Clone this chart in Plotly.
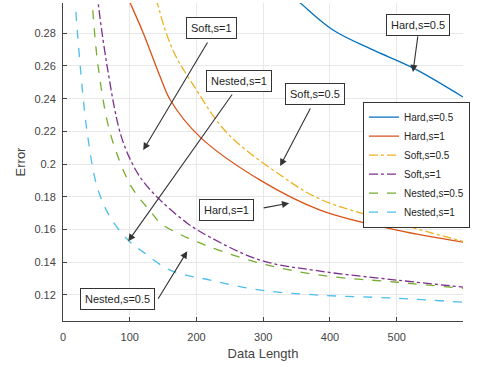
import plotly.graph_objects as go

# ---- data ----
hard05_x = [345, 355.2, 404.6, 464.5, 524.4, 599.3]
hard05_y = [0.302, 0.2986, 0.2820, 0.2698, 0.2588, 0.2410]

hard1_x = [98, 100.7, 120.2, 145.7, 160.7, 205.5, 295.4, 385.2, 500.4, 599.3]
hard1_y = [0.301, 0.2985, 0.2802, 0.2533, 0.2392, 0.2165, 0.1902, 0.1719, 0.1596, 0.1523]

soft05_x = [139, 141.2, 153.1, 168.1, 195.1, 246.0, 329.9, 385.2, 500.4, 599.3]
soft05_y = [0.301, 0.2985, 0.2820, 0.2667, 0.2484, 0.2190, 0.1921, 0.1786, 0.1639, 0.1528]

soft1_x = [51.8, 52.8, 66.3, 85.8, 103.0, 120.0, 145.7, 186.2, 220.5, 295.4, 385.2, 500.4, 599.3]
soft1_y = [0.305, 0.2985, 0.2594, 0.2189, 0.2010, 0.1895, 0.1780, 0.1639, 0.1553, 0.1413, 0.1346, 0.1291, 0.1248]

nested05_x = [43.2, 43.9, 52.8, 70.8, 99.3, 115.7, 130.7, 145.7, 171.1, 195.1, 220.5, 295.4, 385.2, 500.4, 599.3]
nested05_y = [0.305, 0.2985, 0.2593, 0.2189, 0.1884, 0.1786, 0.1713, 0.1640, 0.1579, 0.1535, 0.1493, 0.1394, 0.1321, 0.1278, 0.1241]

nested1_x = [17.6, 18.4, 25.9, 36.4, 51.3, 70.8, 96.3, 120.2, 160.6, 220.5, 295.4, 385.2, 500.4, 599.3]
nested1_y = [0.304, 0.2985, 0.2594, 0.2189, 0.1859, 0.1675, 0.1541, 0.1462, 0.1352, 0.1291, 0.1230, 0.1199, 0.1180, 0.1156]

names = ["Hard,s=0.5", "Hard,s=1", "Soft,s=0.5", "Soft,s=1", "Nested,s=0.5", "Nested,s=1"]
series_x = [hard05_x, hard1_x, soft05_x, soft1_x, nested05_x, nested1_x]
series_y = [hard05_y, hard1_y, soft05_y, soft1_y, nested05_y, nested1_y]
colors = ["#0072BD", "#D95319", "#EDB120", "#7E2F8E", "#77AC30", "#4DBEEE"]
dashes = ["solid", "solid", "dashdot", "dashdot", "dash", "dash"]

x_ticks = [0, 100, 200, 300, 400, 500]
y_ticks = [0.12, 0.14, 0.16, 0.18, 0.2, 0.22, 0.24, 0.26, 0.28]
y_tick_text = ["0.12", "0.14", "0.16", "0.18", "0.2", "0.22", "0.24", "0.26", "0.28"]

# annotation labels: (text, box x, box y, tail x, tail y, tip x, tip y)
labels = [
    ("Soft,s=1", 222, 0.2832, 217.8, 0.2753, 120.2, 0.2086),
    ("Nested,s=1", 263, 0.2508, 255.0, 0.2435, 97.8, 0.1529),
    ("Soft,s=0.5", 377.7, 0.2428, 371.7, 0.2349, 325.3, 0.1988),
    ("Hard,s=0.5", 532.6, 0.2851, 531.9, 0.2790, 524.4, 0.2563),
    ("Hard,s=1", 245.2, 0.1718, 298.4, 0.1731, 338.8, 0.1761),
    ("Nested,s=0.5", 81.3, 0.1177, 141.2, 0.1168, 186.1, 0.1467),
]

FONT = "Liberation Sans, Arial, sans-serif"

fig = go.Figure()
for n, xs, ys, c, d in zip(names, series_x, series_y, colors, dashes):
    fig.add_trace(go.Scatter(
        x=xs, y=ys, name=n, mode="lines",
        line=dict(color=c, width=1.3, dash=d, shape="spline", smoothing=1.0),
    ))

annotations = []
for text, bx, by, tx, ty, px, py in labels:
    annotations.append(dict(
        x=px, y=py, xref="x", yref="y", ax=tx, ay=ty, axref="x", ayref="y",
        text="", showarrow=True, arrowhead=2, arrowsize=1.3, arrowwidth=1.1,
        arrowcolor="#333333",
    ))
for text, bx, by, tx, ty, px, py in labels:
    annotations.append(dict(
        x=bx, y=by, xref="x", yref="y", text=text, showarrow=False,
        font=dict(family=FONT, size=11, color="#262626"),
        bgcolor="white", bordercolor="#333333", borderwidth=1, borderpad=4,
    ))

fig.update_layout(
    width=478, height=367,
    margin=dict(l=63, r=15, t=3, b=46),
    paper_bgcolor="white", plot_bgcolor="white",
    font=dict(family=FONT, size=11, color="#444444"),
    annotations=annotations,
    legend=dict(
        x=0.75, y=0.69, xanchor="left", yanchor="top",
        bgcolor="white", bordercolor="#333333", borderwidth=1,
        font=dict(family=FONT, size=10, color="#262626"), tracegroupgap=0,
        itemwidth=30,
    ),
    xaxis=dict(
        range=[0, 599.3], tickvals=x_ticks, ticktext=[str(v) for v in x_ticks],
        showgrid=True, gridcolor="#e8e8e8", gridwidth=1,
        showline=True, linecolor="#444444", linewidth=1,
        ticks="inside", ticklen=4, tickcolor="#444444",
        zeroline=False, ticklabelstandoff=6, automargin=False,
        title=dict(text="Data Length", font=dict(family=FONT, size=13, color="#444444"), standoff=6),
    ),
    yaxis=dict(
        range=[0.1041, 0.2985], tickvals=y_ticks, ticktext=y_tick_text,
        showgrid=True, gridcolor="#e8e8e8", gridwidth=1,
        showline=True, linecolor="#444444", linewidth=1,
        ticks="inside", ticklen=4, tickcolor="#444444",
        zeroline=False, ticklabelstandoff=4, automargin=False,
        title=dict(text="Error", font=dict(family=FONT, size=13, color="#444444"), standoff=5),
    ),
)

fig.write_html(
    "out.html",
    config={"displayModeBar": False},
    post_script="document.body.style.margin='0';document.body.style.overflow='hidden';",
)
